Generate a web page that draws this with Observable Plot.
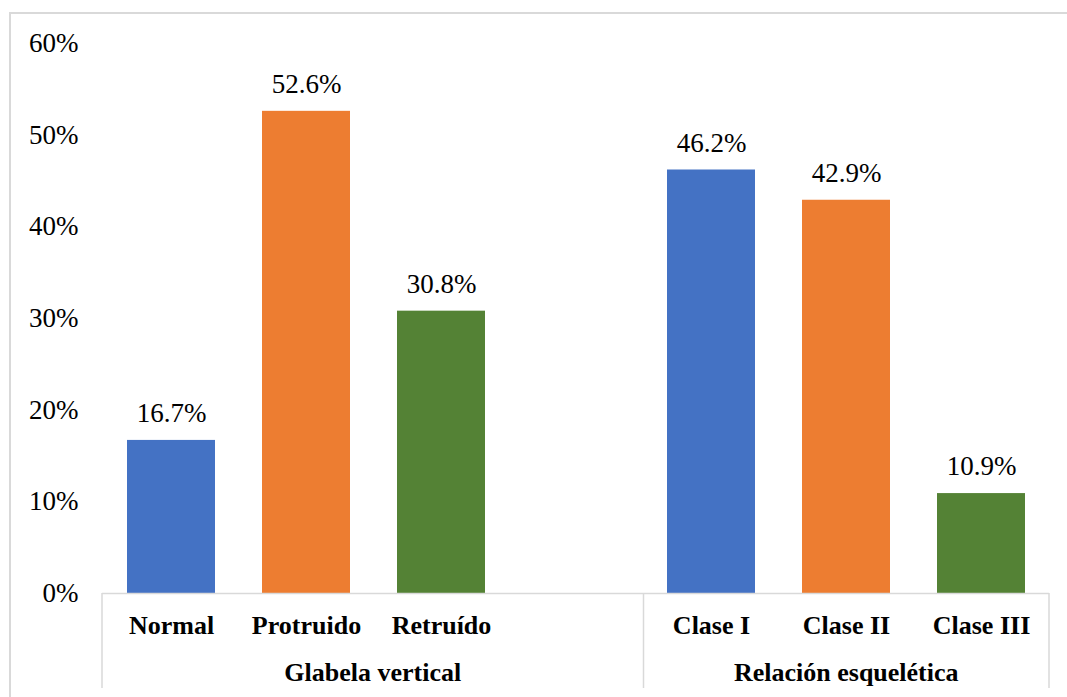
<!DOCTYPE html>
<html>
<head>
<meta charset="utf-8">
<script src="https://cdn.jsdelivr.net/npm/d3@7"></script>
<script src="https://cdn.jsdelivr.net/npm/@observablehq/plot@0.6"></script>
<style>
  body { margin: 0; background: #fff; }
  #wrap { position: relative; width: 1067px; height: 697px; overflow: hidden; }
  #frame { position: absolute; left: 9px; top: 12px; width: 1100px; height: 720px;
           border-top: 2px solid #d9d9d9; border-left: 2px solid #d9d9d9; }
  #chart { position: absolute; left: 0; top: 0; }
</style>
</head>
<body>
<div id="wrap"><div id="frame"></div><div id="chart"></div></div>
<script>
// Category slots along the x axis (one empty slot separates the two groups)
const slots = ["Normal", "Protruido", "Retruído", "\u00a0", "Clase I", "Clase II", "Clase III"];
const groups = ["Glabela vertical", "Relación esquelética"];
const categories = ["Normal", "Protruido", "Retruído", "Clase I", "Clase II", "Clase III"];
const values = [0.167, 0.526, 0.308, 0.462, 0.429, 0.109];
const barColors = ["#4472C4", "#ED7D31", "#548235", "#4472C4", "#ED7D31", "#548235"];
const yTicks = [0, 0.1, 0.2, 0.3, 0.4, 0.5, 0.6];

const rows = categories.map((c, i) => ({category: c, value: values[i]}));
const serif = "Liberation Serif";
const lineColor = "#d9d9d9";

const chart = Plot.plot({
  width: 1067,
  height: 697,
  marginTop: 43,
  marginBottom: 104,
  marginLeft: 102,
  marginRight: 18,
  style: {fontFamily: serif, color: "#000", background: "transparent"},
  x: {domain: slots, paddingInner: 0.35, paddingOuter: 0.175, axis: null},
  y: {domain: [0, 0.6]},
  color: {domain: categories, range: barColors},
  marks: [
    Plot.axisY({ticks: yTicks, tickSize: 0, tickPadding: 24, tickFormat: d3.format(".0%"),
                fontSize: 27, fontFamily: serif, label: null}),
    Plot.barY(rows, {x: "category", y: "value", fill: "category"}),
    Plot.ruleY([0], {stroke: lineColor, strokeWidth: 1.5}),
    Plot.text(rows, {x: "category", y: "value", text: d => d3.format(".1%")(d.value),
                     dy: -27, lineAnchor: "middle", fontSize: 27, fontFamily: serif, fill: "#000"}),
    Plot.text(rows, {x: "category", frameAnchor: "bottom", dy: 32, text: "category",
                     lineAnchor: "middle", fontSize: 26, fontWeight: "bold", fontFamily: serif, fill: "#000"})
  ]
});

// Group brackets: separators at the group boundaries and a centred group title
const xs = chart.scale("x");
const ys = chart.scale("y");
const base = ys.apply(0);
const gap = xs.step - xs.bandwidth;
const left = xs.range[0];
const right = xs.range[1];
const mid = xs.apply("Clase I") - gap / 2;
const svg = d3.select(chart);
const sep = svg.append("g").attr("stroke", lineColor).attr("stroke-width", 1.5);
[left, mid, right].forEach(px => {
  sep.append("line").attr("x1", px).attr("x2", px).attr("y1", base).attr("y2", base + 95);
});
const bounds = [[left, mid], [mid, right]];
svg.append("g")
  .attr("font-family", serif).attr("font-size", 26).attr("font-weight", "bold")
  .attr("text-anchor", "middle").attr("fill", "#000")
  .selectAll("text").data(groups).join("text")
  .attr("x", (d, i) => (bounds[i][0] + bounds[i][1]) / 2)
  .attr("y", base + 80)
  .attr("dy", "0.32em")
  .text(d => d);

document.getElementById("chart").append(chart);
</script>
</body>
</html>
